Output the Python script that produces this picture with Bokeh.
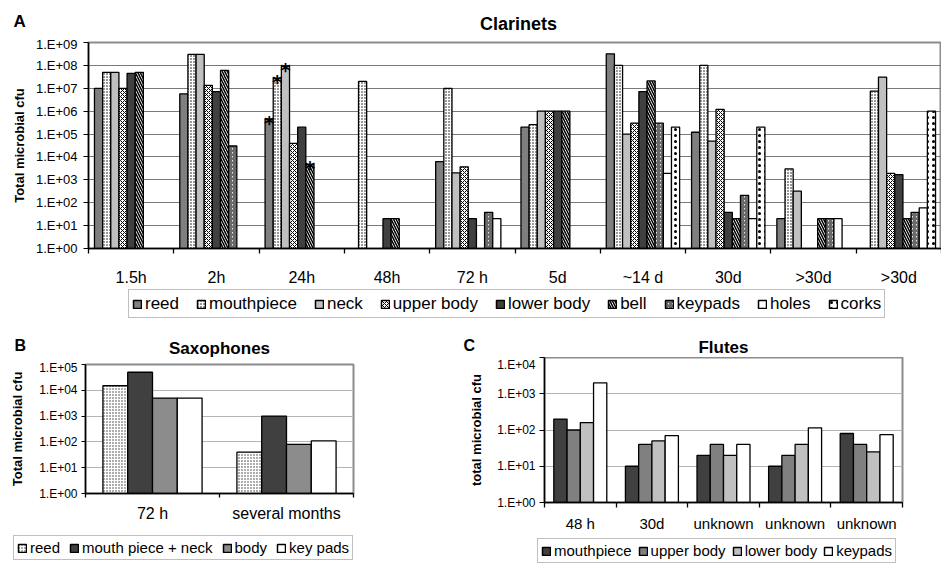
from bokeh.plotting import figure
from bokeh.models import Range1d, FixedTicker, Legend, LegendItem, ColumnDataSource
from bokeh.layouts import column, row
from bokeh.embed import file_html
from bokeh.resources import INLINE
from bokeh.core.properties import value

FONT = "Liberation Sans"
nan = float("nan")

# ---------------- data: Clarinets (panel A) ----------------
cl_categories = ["1.5h", "2h", "24h", "48h", "72 h", "5d", "~14 d", "30d", ">30d", ">30d"]
cl_series = ["reed", "mouthpiece", "neck", "upper body", "lower body", "bell", "keypads", "holes", "corks"]
cl_reed = [1.0e7, 5.7e6, 4.6e5, nan, 6.3e3, 2.0e5, 3.2e8, 1.2e5, 2.0e1, nan]
cl_mouthpiece = [5.0e7, 3.0e8, 2.8e7, 2.0e7, 1.0e7, 2.6e5, 1.0e8, 1.0e8, 3.0e3, 7.5e6]
cl_neck = [5.0e7, 3.0e8, 9.5e7, nan, 2.0e3, 1.0e6, 1.0e5, 4.9e4, 3.2e2, 3.1e7]
cl_upper_body = [1.0e7, 1.35e7, 3.9e4, nan, 3.7e3, 1.0e6, 3.0e5, 1.2e6, nan, 1.9e3]
cl_lower_body = [4.5e7, 7.2e6, 2.0e5, 2.0e1, 2.0e1, 1.0e6, 7.2e6, 3.8e1, nan, 1.7e3]
cl_bell = [5.0e7, 6.0e7, 4.7e3, 2.0e1, nan, 1.0e6, 2.1e7, 2.0e1, 2.0e1, 2.0e1]
cl_keypads = [nan, 3.0e4, nan, nan, 3.8e1, nan, 3.0e5, 2.1e2, 2.0e1, 3.8e1]
cl_holes = [nan, nan, nan, nan, 2.0e1, nan, 1.9e3, 2.0e1, 2.0e1, 6.0e1]
cl_corks = [nan, nan, nan, nan, nan, nan, 2.0e5, 2.0e5, nan, 1.0e6]
cl_ytick_labels = ["1.E+00", "1.E+01", "1.E+02", "1.E+03", "1.E+04", "1.E+05",
                   "1.E+06", "1.E+07", "1.E+08", "1.E+09"]
# asterisks (significance marks) on 24h: reed, mouthpiece, neck, bell
cl_star_category = [2, 2, 2, 2]
cl_star_series = [0, 1, 2, 5]

# ---------------- data: Saxophones (panel B) ----------------
sax_categories = ["72 h", "several months"]
sax_series = ["reed", "mouth piece + neck", "body", "key pads"]
sax_reed = [1.5e4, 4.0e1]
sax_mouth_neck = [5.0e4, 1.0e3]
sax_body = [5.0e3, 8.0e1]
sax_keypads = [5.0e3, 1.1e2]
sax_ytick_labels = ["1.E+00", "1.E+01", "1.E+02", "1.E+03", "1.E+04", "1.E+05"]

# ---------------- data: Flutes (panel C) ----------------
fl_categories = ["48 h", "30d", "unknown", "unknown", "unknown"]
fl_series = ["mouthpiece", "upper body", "lower body", "keypads"]
fl_mouthpiece = [200, 10, 20, 10, 80]
fl_upper_body = [100, 40, 40, 20, 40]
fl_lower_body = [160, 50, 20, 40, 25]
fl_keypads = [2000, 70, 40, 115, 75]
fl_ytick_labels = ["1.E+00", "1.E+01", "1.E+02", "1.E+03", "1.E+04"]


def S(fill, hatch=None, hcolor="black", hscale=4, hweight=1.0):
    d = dict(fill_color=fill)
    if hatch:
        d.update(hatch_pattern=hatch, hatch_color=hcolor, hatch_scale=hscale, hatch_weight=hweight)
    return d


def blank(width, height):
    """A figure whose frame is the whole canvas (for titles / legends)."""
    p = figure(width=width, height=height, output_backend="svg", toolbar_location=None,
               x_range=Range1d(0, width), y_range=Range1d(height, 0),
               x_axis_location=None, y_axis_location=None, title_location=None,
               min_border=0, background_fill_color="white", border_fill_color="white")
    p.outline_line_color = None
    p.grid.visible = False
    return p


def header(width, height, letter, letter_x, letter_base, letter_size,
           title, title_x, title_base, title_size):
    h = blank(width, height)
    h.text(x=[letter_x], y=[letter_base], text=[letter], text_font=value(FONT),
           text_font_size=letter_size, text_font_style="bold", text_align="left",
           text_baseline="alphabetic", text_color="black")
    h.text(x=[title_x], y=[title_base], text=[title], text_font=value(FONT),
           text_font_size=title_size, text_font_style="bold", text_align="center",
           text_baseline="alphabetic", text_color="black")
    return h


def legend_strip(width, height, names, styles, loc, font, spacing, label_h):
    f = blank(width, height)
    items = []
    for name, st in zip(names, styles):
        # legend key only: a proxy bar with no drawable value
        r = f.vbar(x=[nan], top=[nan], width=1, line_color="black", line_width=1.5, **st)
        items.append(LegendItem(label=name, renderers=[r]))
    leg = Legend(items=items, location=loc, orientation="horizontal",
                 label_text_font=FONT, label_text_font_size=font, label_text_color="black",
                 glyph_width=10, glyph_height=10, label_standoff=3, spacing=spacing,
                 padding=3, margin=0, label_height=label_h,
                 border_line_color="#7f7f7f", border_line_width=1.5,
                 background_fill_color="white", background_fill_alpha=1.0)
    f.add_layout(leg)
    return f


def make_panel(width, height, borders, cats, ytick_labels, series_vals, styles,
               group_frac, tick_font, cat_font, cat_standoff, ytick_standoff, tick_out,
               ylabel, ylabel_standoff, grid_color):
    ncat = len(cats)
    ymax = 10 ** (len(ytick_labels) - 1)
    left, right, top, bottom = borders
    p = figure(width=width, height=height, output_backend="svg", toolbar_location=None,
               x_range=Range1d(0, ncat), y_range=Range1d(1, ymax), y_axis_type="log",
               title_location=None,
               min_border_left=left, min_border_right=right, min_border_top=top,
               min_border_bottom=bottom, background_fill_color="white", border_fill_color="white")
    p.outline_line_color = "#8c8c8c"
    p.outline_line_width = 2
    p.xgrid.visible = False
    p.ygrid.grid_line_color = grid_color
    p.ygrid.grid_line_width = 1

    # x axis: labels at category centres, ticks at category boundaries
    centers = [k + 0.5 for k in range(ncat)]
    xa = p.xaxis[0]
    xa.ticker = FixedTicker(ticks=centers, minor_ticks=list(range(ncat + 1)))
    xa.major_label_overrides = {c: lab for c, lab in zip(centers, cats)}
    xa.major_tick_line_color = None
    xa.major_tick_out = 0
    xa.major_tick_in = 0
    xa.minor_tick_line_color = "black"
    xa.minor_tick_line_width = 1.3
    xa.minor_tick_out = tick_out
    xa.minor_tick_in = 0
    xa.axis_line_color = "black"
    xa.axis_line_width = 1.5
    xa.major_label_text_font = FONT
    xa.major_label_text_font_size = cat_font
    xa.major_label_text_color = "black"
    xa.major_label_standoff = cat_standoff

    ya = p.yaxis[0]
    yt = [10 ** k for k in range(len(ytick_labels))]
    ya.ticker = FixedTicker(ticks=yt)
    ya.major_label_overrides = {t: lab for t, lab in zip(yt, ytick_labels)}
    ya.minor_tick_line_color = None
    ya.major_tick_out = tick_out
    ya.major_tick_in = 0
    ya.major_tick_line_color = "black"
    ya.major_tick_line_width = 1.2
    ya.axis_line_color = "black"
    ya.axis_line_width = 1.5
    ya.major_label_text_font = FONT
    ya.major_label_text_font_size = tick_font
    ya.major_label_text_color = "black"
    ya.major_label_standoff = ytick_standoff
    ya.axis_label = ylabel
    ya.axis_label_text_font = FONT
    ya.axis_label_text_font_style = "bold"
    ya.axis_label_text_font_size = "13px"
    ya.axis_label_text_color = "black"
    ya.axis_label_standoff = ylabel_standoff

    n = len(series_vals)
    w = group_frac / n
    xs_all = []
    for i, (vals, st) in enumerate(zip(series_vals, styles)):
        xs = [k + 0.5 + (i - (n - 1) / 2) * w for k in range(ncat)]
        xs_all.append(xs)
        src = ColumnDataSource(dict(x=xs, top=vals))
        p.vbar(x="x", top="top", bottom=1, width=w, source=src,
               line_color="black", line_width=1.3, **st)
    return p, xs_all


# ---------------- Panel A ----------------
cl_vals = [cl_reed, cl_mouthpiece, cl_neck, cl_upper_body, cl_lower_body, cl_bell,
           cl_keypads, cl_holes, cl_corks]
cl_styles = [
    S("#7f7f7f"),
    S("white", "dot", "black", 3, 1.2),
    S("#c0c0c0"),
    S("white", "diagonal_cross", "black", 4, 1.0),
    S("#404040"),
    S("white", "left_diagonal_line", "black", 5, 1.5),
    S("white", "right_diagonal_line", "#6a6a6a", 4, 2.0),
    S("white"),
    S("white", "dot", "black", 6, 1.2),
]
hdrA = header(941, 36, "A", 13, 21, "17px", "Clarinets", 518, 23, "18px")
pA, cl_xs = make_panel(941, 252, (88, 0, 6, 37), cl_categories, cl_ytick_labels,
                       cl_vals, cl_styles, 0.86, "13px", "16px", 15, 6, 5,
                       "Total microbial cfu", 6, "#7a7a7a")
pA.text(x=[cl_xs[s][c] for s, c in zip(cl_star_series, cl_star_category)],
        y=[cl_vals[s][c] for s, c in zip(cl_star_series, cl_star_category)],
        text=["*"] * len(cl_star_series), text_font=value("DejaVu Sans"), text_font_size="20px",
        text_font_style="bold", text_align="center", text_baseline="alphabetic", y_offset=4,
        text_color="black")
legA = legend_strip(941, 34, cl_series, cl_styles, (128, 4), "17px", 17, 21)

# ---------------- Panel B ----------------
sax_vals = [sax_reed, sax_mouth_neck, sax_body, sax_keypads]
sax_styles = [S("white", "dot", "#333333", 3, 1.2), S("#404040"), S("#8c8c8c"), S("white")]
hdrB = header(458, 38, "B", 14, 23, "16px", "Saxophones", 219, 26, "17px")
pB, _ = make_panel(458, 164, (85, 105, 4, 31), sax_categories, sax_ytick_labels,
                   sax_vals, sax_styles, 0.74, "12px", "16px", 7, 4, 4,
                   "Total microbial cfu", 11, "#b4b4b4")
legB = legend_strip(458, 42, sax_series, sax_styles, (13, 6), "15px", 9, 17)

# ---------------- Panel C ----------------
fl_vals = [fl_mouthpiece, fl_upper_body, fl_lower_body, fl_keypads]
fl_styles = [S("#404040"), S("#808080"), S("#c0c0c0"), S("white")]
hdrC = header(483, 35, "C", 5, 23, "16px", "Flutes", 265, 25, "17px")
pC, _ = make_panel(483, 177, (86, 39, 0, 31), fl_categories, fl_ytick_labels,
                   fl_vals, fl_styles, 0.74, "12px", "15px", 7, 4, 5,
                   "total microbial cfu", 10, "#b4b4b4")
legC = legend_strip(483, 32, fl_series, fl_styles, (79, 3), "15px", 6, 15)

# each figure sits in its own row so that the layout does not align their frames
layout = column(row(hdrA), row(pA), row(legA),
                row(column(row(hdrB), row(pB), row(legB)),
                    column(row(hdrC), row(pC), row(legC))))
open("out.html", "w").write(file_html(layout, INLINE))
